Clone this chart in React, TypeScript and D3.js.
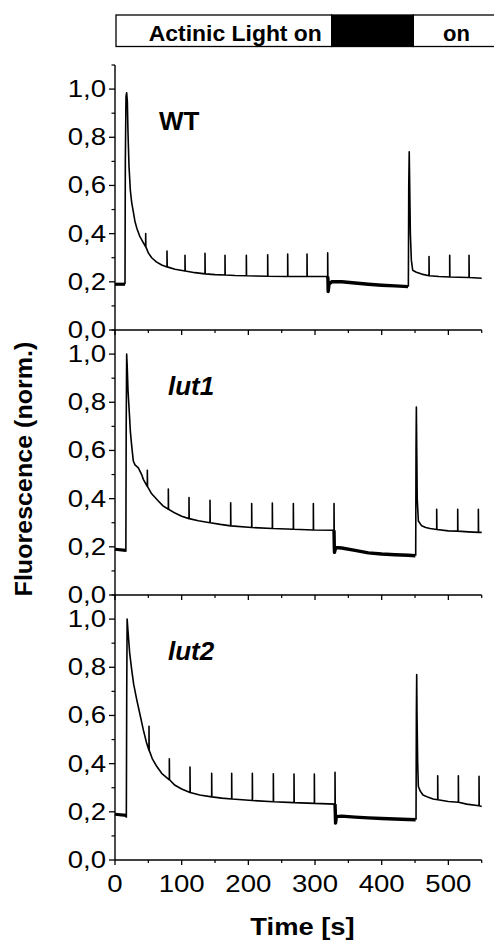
import React from 'react'
import * as d3 from 'd3'

type Pt = [number, number]

// axes
const timeTicks = [0, 100, 200, 300, 400, 500]
const timeMinor = [50, 150, 250, 350, 450, 550]
const valueTicks = [0, 0.2, 0.4, 0.6, 0.8, 1.0]
const valueMinor = [0.1, 0.3, 0.5, 0.7, 0.9, 1.1]

// light regime bar on top
const phaseStart = [0, 325, 447.5]
const phaseEnd = [325, 447.5, 570]
const phaseOn = [true, false, true]
const phaseLabel = ['Actinic Light on', '', 'on']

// WT
const wtPre: Pt[] = [[0, 0.19], [15, 0.19]]
const wtLight1: Pt[] = [
  [15, 0.19], [15.5, 0.7], [16.5, 0.97], [17.5, 0.985], [18.5, 0.95], [19.5, 0.82], [21, 0.68],
  [23, 0.58], [25, 0.53], [27.5, 0.49], [30, 0.45], [33, 0.42], [37, 0.39], [42, 0.365],
  [46, 0.345], [50, 0.32], [55, 0.3], [62, 0.283], [70, 0.27], [78, 0.262], [90, 0.252],
  [105, 0.245], [120, 0.238], [135, 0.233], [150, 0.23], [165, 0.228], [180, 0.226],
  [197, 0.225], [229, 0.223], [259, 0.222], [288, 0.222], [319, 0.222],
]
const wtFlashes1: Pt[] = [
  [46, 0.4], [78, 0.328], [105, 0.31], [135, 0.318], [165, 0.31], [197, 0.31],
  [229, 0.312], [259, 0.315], [288, 0.315], [319, 0.32],
]
const wtDark: Pt[] = [
  [319.4, 0.21], [319.7, 0.16], [321, 0.19], [325, 0.2], [340, 0.2], [360, 0.195],
  [380, 0.19], [400, 0.186], [420, 0.183], [439.5, 0.18],
]
const wtLight2: Pt[] = [
  [440, 0.18], [440.6, 0.6], [441.3, 0.74], [442, 0.6], [443, 0.4], [444.5, 0.29],
  [446.5, 0.248], [452, 0.24], [460, 0.232], [471, 0.225], [486, 0.222], [502, 0.22],
  [516, 0.219], [531, 0.218], [550, 0.215],
]
const wtFlashes2: Pt[] = [[471, 0.305], [502, 0.31], [531, 0.31]]

// lut1
const lut1Pre: Pt[] = [[0, 0.19], [16.3, 0.185]]
const lut1Light1: Pt[] = [
  [16.3, 0.18], [16.8, 0.7], [17.5, 1.0], [18.3, 0.95], [19.5, 0.85], [21.5, 0.756],
  [23, 0.68], [25, 0.62], [27.5, 0.556], [30, 0.54], [35, 0.528], [40, 0.5], [42.5, 0.48],
  [48.5, 0.45], [55, 0.42], [65, 0.39], [72, 0.37], [80, 0.356], [90, 0.34], [100, 0.327],
  [111, 0.317], [125, 0.308], [142.5, 0.3], [158, 0.293], [173.5, 0.287], [205, 0.28],
  [236, 0.276], [267.5, 0.273], [297.5, 0.27], [328.5, 0.269],
]
const lut1Flashes1: Pt[] = [
  [48.5, 0.518], [80, 0.44], [111, 0.404], [142.5, 0.393], [173.5, 0.383], [205, 0.38],
  [236, 0.382], [267.5, 0.38], [297.5, 0.38], [328.5, 0.38],
]
const lut1Dark: Pt[] = [
  [328.9, 0.2], [329.2, 0.177], [331, 0.197], [340, 0.195], [360, 0.185], [380, 0.175],
  [400, 0.17], [420, 0.167], [440, 0.165], [450.5, 0.163],
]
const lut1Light2: Pt[] = [
  [451, 0.163], [451.5, 0.6], [452, 0.78], [452.6, 0.6], [453.3, 0.4], [455, 0.307],
  [460, 0.287], [466, 0.28], [472.5, 0.276], [482.5, 0.272], [500, 0.266], [514, 0.265],
  [530, 0.262], [545, 0.26], [550, 0.26],
]
const lut1Flashes2: Pt[] = [[482.5, 0.356], [514, 0.356], [545, 0.356]]

// lut2
const lut2Pre: Pt[] = [[0, 0.19], [17, 0.185]]
const lut2Light1: Pt[] = [
  [17, 0.175], [17.6, 0.7], [18.2, 1.0], [19.5, 0.95], [22, 0.86], [25, 0.79], [28, 0.73],
  [32.5, 0.667], [37, 0.61], [42.5, 0.54], [47, 0.49], [51, 0.455], [56, 0.42],
  [62.5, 0.389], [70, 0.36], [81.5, 0.333], [90, 0.31], [100, 0.295], [112.5, 0.28],
  [127, 0.27], [145, 0.262], [160, 0.257], [175, 0.253], [206, 0.247], [237.5, 0.242],
  [268.5, 0.238], [299, 0.235], [330, 0.232],
]
const lut2Flashes1: Pt[] = [
  [51, 0.555], [81.5, 0.42], [112.5, 0.386], [145, 0.36], [175, 0.36], [206, 0.36],
  [237.5, 0.358], [268.5, 0.357], [299, 0.357], [330, 0.364],
]
const lut2Dark: Pt[] = [
  [330.4, 0.2], [330.8, 0.153], [332, 0.18], [340, 0.182], [360, 0.178], [380, 0.175],
  [400, 0.172], [420, 0.17], [440, 0.168], [451, 0.167],
]
const lut2Light2: Pt[] = [
  [451.5, 0.167], [452, 0.6], [452.5, 0.77], [453, 0.6], [454, 0.4], [455, 0.305],
  [458, 0.285], [462, 0.27], [470, 0.26], [477, 0.253], [484, 0.25], [500, 0.243],
  [515, 0.24], [527.5, 0.232], [546, 0.225], [550, 0.222],
]
const lut2Flashes2: Pt[] = [[484, 0.35], [515, 0.35], [546, 0.347]]

const panels = [
  { name: 'WT', italic: false, pre: wtPre, light1: wtLight1, flashes1: wtFlashes1, dark: wtDark, light2: wtLight2, flashes2: wtFlashes2 },
  { name: 'lut1', italic: true, pre: lut1Pre, light1: lut1Light1, flashes1: lut1Flashes1, dark: lut1Dark, light2: lut1Light2, flashes2: lut1Flashes2 },
  { name: 'lut2', italic: true, pre: lut2Pre, light1: lut2Light1, flashes1: lut2Flashes1, dark: lut2Dark, light2: lut2Light2, flashes2: lut2Flashes2 },
]

// put the saturating flash spikes onto the trace
function withFlashes(curve: Pt[], flashes: Pt[]): Pt[] {
  const out: Pt[] = []
  curve.forEach(([t, v]) => {
    out.push([t, v])
    const f = flashes.find(d => d[0] === t)
    if (f) {
      out.push([t, f[1]])
      out.push([t + 0.3, v])
    }
  })
  return out
}

const fmt = (v: number) => d3.format('.1f')(v).replace('.', ',')

export default function App() {
  const W = 494
  const H = 940
  const panelH = 265
  const x = d3.scaleLinear().domain([0, 550]).range([115, 481.7])
  const x0 = x(0)
  const x1 = x(550)
  const font = "'Liberation Sans', Arial, Helvetica, sans-serif"

  return (
    <svg width={W} height={H} style={{ position: 'absolute', left: 0, top: 0, background: '#fff' }} fontFamily={font}>
      {/* light regime bar */}
      <g>
        {phaseStart.map((s, i) => {
          const a = i === 0 ? 116 : x(s)
          const b = x(phaseEnd[i])
          return (
            <rect key={i} x={a} y={15} width={b - a} height={31.5}
              fill={phaseOn[i] ? '#fff' : '#000'} stroke="#000" strokeWidth={1.3} />
          )
        })}
        <text x={(x(phaseStart[0]) + x(phaseEnd[0])) / 2 + 12} y={40.7} textAnchor="middle"
          fontWeight="bold" fontSize={22} textLength={173} lengthAdjust="spacingAndGlyphs">{phaseLabel[0]}</text>
        <text x={456.5} y={40.7} textAnchor="middle" fontWeight="bold" fontSize={22}>{phaseLabel[2]}</text>
      </g>

      {panels.map((p, i) => {
        const bottom = 330 + panelH * i
        const y = d3.scaleLinear().domain([0, 1.1]).range([bottom, bottom - panelH])
        const line = d3.line<Pt>().x(d => x(d[0])).y(d => y(d[1]))
        const last = p.light1[p.light1.length - 1]
        return (
          <g key={p.name}>
            {/* left axis */}
            <line x1={x0} x2={x0} y1={y(0)} y2={y(1.1)} stroke="#000" strokeWidth={1.4} />
            {valueTicks.map(v => (
              <g key={v}>
                <line x1={x0 - 6} x2={x0} y1={y(v)} y2={y(v)} stroke="#000" strokeWidth={1.3} />
                <text transform={`translate(106,${y(v) + 8}) scale(1.2,1)`} textAnchor="end" fontSize={23}>{fmt(v)}</text>
              </g>
            ))}
            {valueMinor.map(v => (
              <line key={v} x1={x0 - 3.5} x2={x0} y1={y(v)} y2={y(v)} stroke="#000" strokeWidth={1.2} />
            ))}
            {/* bottom axis */}
            <line x1={x0} x2={x1} y1={bottom} y2={bottom} stroke="#000" strokeWidth={1.4} />
            {timeTicks.map(t => (
              <line key={t} x1={x(t)} x2={x(t)} y1={bottom} y2={bottom + 5} stroke="#000" strokeWidth={1.3} />
            ))}
            {timeMinor.map(t => (
              <line key={t} x1={x(t)} x2={x(t)} y1={bottom} y2={bottom + 3} stroke="#000" strokeWidth={1.2} />
            ))}
            {i === panels.length - 1 && timeTicks.map(t => (
              <text key={t} transform={`translate(${x(t)},${bottom + 31.7}) scale(1.2,1)`} textAnchor="middle" fontSize={23}>{t}</text>
            ))}
            {/* traces */}
            <path d={line(p.pre) || ''} fill="none" stroke="#000" strokeWidth={3.2} />
            <path d={line([last, ...p.dark]) || ''} fill="none" stroke="#000" strokeWidth={3.4} strokeLinejoin="round" />
            <path d={line(withFlashes(p.light1, p.flashes1)) || ''} fill="none" stroke="#000" strokeWidth={1.6} strokeLinejoin="round" />
            <path d={line(withFlashes(p.light2, p.flashes2)) || ''} fill="none" stroke="#000" strokeWidth={1.6} strokeLinejoin="round" />
            {/* panel label */}
            <text x={p.italic ? 168 : 159} y={bottom - panelH + 64.5} fontWeight="bold"
              fontStyle={p.italic ? 'italic' : 'normal'} fontSize={26}>{p.name}</text>
          </g>
        )
      })}

      {/* axis titles */}
      <text transform="translate(302.5,935) scale(1.14,1)" textAnchor="middle" fontWeight="bold" fontSize={24}>Time [s]</text>
      <text transform="translate(32,469) rotate(-90) scale(1.09,1)" textAnchor="middle" fontWeight="bold" fontSize={23}>Fluorescence (norm.)</text>
    </svg>
  )
}
